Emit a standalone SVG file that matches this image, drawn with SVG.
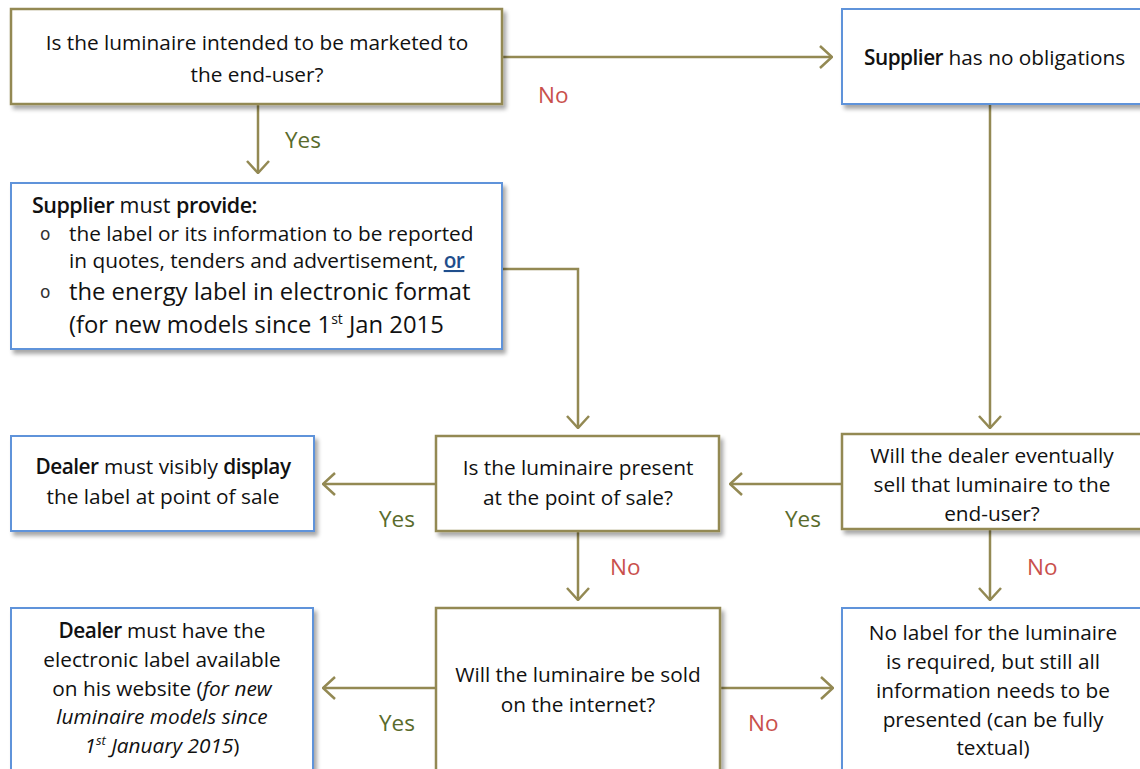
<svg xmlns="http://www.w3.org/2000/svg" width="1140" height="769" viewBox="0 0 1140 769">
<defs>
<filter id="sh" x="-5%" y="-5%" width="115%" height="120%">
<feGaussianBlur in="SourceAlpha" stdDeviation="2"/>
<feOffset dx="3" dy="4" result="b"/>
<feComponentTransfer><feFuncA type="linear" slope="0.35"/></feComponentTransfer>
<feMerge><feMergeNode/><feMergeNode in="SourceGraphic"/></feMerge>
</filter>
<marker id="ar" viewBox="0 0 14 24" refX="13" refY="12" markerWidth="14" markerHeight="24" markerUnits="userSpaceOnUse" orient="auto">
<path d="M1,1 L13,12 L1,23" fill="none" stroke="#938953" stroke-width="2.5"/>
</marker>
<clipPath id="c6"><rect x="842" y="434" width="300" height="95"/></clipPath>
</defs>
<style>
.q{fill:#fff;stroke:#938953;stroke-width:2.5}
.a{fill:#fff;stroke:#5f93da;stroke-width:2}
text{font-family:"Open Sans","DejaVu Sans",sans-serif;font-size:20.8px;fill:#111}
.c{text-anchor:middle}
.b{font-weight:600;letter-spacing:-0.5px}
.yes{fill:#5a6b2c;font-size:22.5px}
.no{fill:#c9504c;font-size:22.5px}
.bul{font-family:"DejaVu Sans",sans-serif;font-size:17px;font-weight:normal;fill:#333}
.ln{fill:none;stroke:#938953;stroke-width:2.5}
</style>
<g id="connectors">
<path class="ln" d="M502,57 H832" marker-end="url(#ar)"/>
<path class="ln" d="M258,104 V173" marker-end="url(#ar)"/>
<path class="ln" d="M502,269 H578 V428" marker-end="url(#ar)"/>
<path class="ln" d="M990,104 V428" marker-end="url(#ar)"/>
<path class="ln" d="M842,484 H730" marker-end="url(#ar)"/>
<path class="ln" d="M436,484 H323" marker-end="url(#ar)"/>
<path class="ln" d="M578,531 V600" marker-end="url(#ar)"/>
<path class="ln" d="M990,529 V600" marker-end="url(#ar)"/>
<path class="ln" d="M436,688 H323" marker-end="url(#ar)"/>
<path class="ln" d="M720,688 H833" marker-end="url(#ar)"/>
<text class="no" x="538" y="103">No</text>
<text class="yes" x="285" y="148">Yes</text>
<text class="yes" x="379" y="527">Yes</text>
<text class="yes" x="785" y="527">Yes</text>
<text class="no" x="610" y="575">No</text>
<text class="no" x="1027" y="575">No</text>
<text class="yes" x="379" y="731">Yes</text>
<text class="no" x="748" y="731">No</text>
</g>
<g id="n1">
<rect class="q" x="11" y="9" width="491" height="95" filter="url(#sh)"/>
<text class="c" x="257" y="50">Is the luminaire intended to be marketed to</text>
<text class="c" x="257" y="82">the end-user?</text>
</g>
<g id="n2">
<rect class="a" x="842" y="9" width="310" height="95" filter="url(#sh)"/>
<text x="864" y="65"><tspan class="b">Supplier</tspan> has no obligations</text>
</g>
<g id="n3">
<rect class="a" x="11" y="183" width="491" height="166" filter="url(#sh)"/>
<text x="32" y="213" style="font-size:21.5px"><tspan class="b">Supplier</tspan> must <tspan class="b">provide:</tspan></text>
<text class="bul" x="40" y="240">o</text>
<text x="69" y="241">the label or its information to be reported</text>
<text x="69" y="268">in quotes, tenders and advertisement, <tspan class="b" fill="#1f4e8c" text-decoration="underline">or</tspan></text>
<text class="bul" x="40" y="298">o</text>
<text x="69" y="300" style="font-size:23.8px">the energy label in electronic format</text>
<text x="69" y="333" style="font-size:23.8px">(for new models since 1<tspan dy="-9" style="font-size:14px">st</tspan><tspan dy="9"> Jan 2015</tspan></text>
</g>
<g id="n4">
<rect class="a" x="11" y="436" width="303" height="95" filter="url(#sh)"/>
<text class="c" x="163" y="474"><tspan class="b">Dealer</tspan> must visibly <tspan class="b">display</tspan></text>
<text class="c" x="163" y="504">the label at point of sale</text>
</g>
<g id="n5">
<rect class="q" x="436" y="436" width="283" height="95" filter="url(#sh)"/>
<text class="c" x="578" y="475">Is the luminaire present</text>
<text class="c" x="578" y="505">at the point of sale?</text>
</g>
<g id="n6">
<rect class="q" x="842" y="434" width="310" height="95" filter="url(#sh)"/>
<g clip-path="url(#c6)">
<text class="c" x="992" y="463">Will the dealer eventually</text>
<text class="c" x="992" y="492">sell that luminaire to the</text>
<text class="c" x="992" y="521">end-user?</text>
</g>
</g>
<g id="n7">
<rect class="a" x="11" y="608" width="302" height="170" filter="url(#sh)"/>
<text class="c" x="162" y="638"><tspan class="b">Dealer</tspan> must have the</text>
<text class="c" x="162" y="667">electronic label available</text>
<text class="c" x="162" y="696">on his website (<tspan font-style="italic">for new</tspan></text>
<text class="c" x="162" y="724" font-style="italic">luminaire models since</text>
<text class="c" x="162" y="753"><tspan font-style="italic">1<tspan dy="-8" style="font-size:13px">st</tspan><tspan dy="8"> January 2015</tspan></tspan>)</text>
</g>
<g id="n8">
<rect class="q" x="436" y="608" width="284" height="170" filter="url(#sh)"/>
<text class="c" x="578" y="682">Will the luminaire be sold</text>
<text class="c" x="578" y="712">on the internet?</text>
</g>
<g id="n9">
<rect class="a" x="842" y="608" width="310" height="170" filter="url(#sh)"/>
<text class="c" x="993" y="640">No label for the luminaire</text>
<text class="c" x="993" y="669">is required, but still all</text>
<text class="c" x="993" y="698">information needs to be</text>
<text class="c" x="993" y="727">presented (can be fully</text>
<text class="c" x="993" y="755">textual)</text>
</g>
</svg>
